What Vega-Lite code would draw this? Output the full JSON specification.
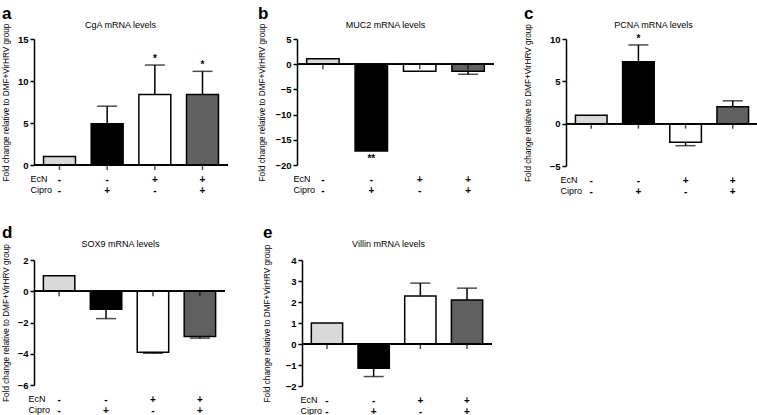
{
  "$schema": "https://vega.github.io/schema/vega-lite/v6.json",
  "background": "white",
  "padding": {"left": 0, "top": 5, "right": 0, "bottom": 0},
  "config": {
    "font": "Liberation Sans",
    "view": {"stroke": null},
    "axis": {"grid": false, "domainColor": "black", "tickColor": "black", "labelColor": "black", "titleColor": "black", "labelFont": "Liberation Sans", "titleFont": "Liberation Sans"},
    "axisY": {"titleFontSize": 8.2, "titleFontWeight": "normal", "labelFontSize": 9.5, "labelFontWeight": "bold", "tickSize": 4, "tickWidth": 1.5, "domainWidth": 1.5, "labelPadding": 2, "title": "Fold change relative to DMF+VirHRV group"},
    "title": {"font": "Liberation Sans", "color": "black", "fontSize": 17, "fontWeight": "bold", "anchor": "start", "frame": "bounds", "offset": -3, "dx": 1}
  },
  "spacing": 28,
  "vconcat": [
    {
      "spacing": 27,
      "hconcat": [
        {
          "title": "a",
          "width": 194, "height": 126,
          "resolve": {"axis": {"x": "independent", "y": "independent"}},
          "data": {"values": [
            {"group": "-/-", "mean": 1.0},
            {"group": "-/+", "mean": 4.9, "err": 7.0},
            {"group": "+/-", "mean": 8.4, "err": 11.9, "star": "*"},
            {"group": "+/+", "mean": 8.4, "err": 11.15, "star": "*"}
          ]},
          "layer": [
            {"mark": {"type": "bar", "stroke": "black", "strokeWidth": 1.5},
             "encoding": {
               "x": {"field": "group", "type": "nominal", "scale": {"domain": ["-/-", "-/+", "+/-", "+/+"], "paddingInner": 0.33, "paddingOuter": 0.2},
                     "axis": {"orient": "bottom", "domain": false, "ticks": false, "labelExpr": "split(datum.value, '/')", "labelAngle": 0, "labelFontSize": 10, "labelFontWeight": "bold", "labelLineHeight": 11, "labelPadding": 9, "labelBaseline": "top", "title": ["EcN", "Cipro"], "titleX": -4, "titleY": 9, "titleAlign": "left", "titleBaseline": "top", "titleFontSize": 9, "titleFontWeight": "normal", "titleLineHeight": 11}},
               "y": {"field": "mean", "type": "quantitative", "scale": {"domain": [0, 15], "nice": false},
                     "axis": {"orient": "left", "values": [0, 5, 10, 15], "title": "Fold change relative to DMF+VirHRV group", "titleX": -24}},
               "fill": {"field": "group", "type": "nominal", "scale": {"domain": ["-/-", "-/+", "+/-", "+/+"], "range": ["#d9d9d9", "#000000", "#ffffff", "#606060"]}, "legend": null}
             }},
            {"mark": {"type": "rule", "color": "black", "strokeWidth": 1.5},
             "encoding": {"y": {"datum": 0, "type": "quantitative", "axis": null}}},
            {"mark": {"type": "tick", "orient": "vertical", "size": 5, "thickness": 1.5, "yOffset": 2.5, "color": "black"},
             "encoding": {"x": {"field": "group", "type": "nominal", "axis": null}, "y": {"datum": 0, "type": "quantitative", "axis": null}}},
            {"transform": [{"filter": "isValid(datum.err)"}],
             "mark": {"type": "rule", "color": "black", "strokeWidth": 1.5},
             "encoding": {"x": {"field": "group", "type": "nominal", "axis": null}, "y": {"field": "mean", "type": "quantitative", "axis": null}, "y2": {"field": "err"}}},
            {"transform": [{"filter": "isValid(datum.err)"}],
             "mark": {"type": "tick", "size": 20, "thickness": 1.5, "color": "black"},
             "encoding": {"x": {"field": "group", "type": "nominal", "axis": {"orient": "top", "labels": false, "ticks": false, "domain": false, "title": "CgA mRNA levels", "titleX": 86, "titleFontSize": 9, "titleFontWeight": "normal", "titlePadding": 10}},
                          "y": {"field": "err", "type": "quantitative", "axis": null}}},
            {"transform": [{"filter": "isValid(datum.star)"}],
             "mark": {"type": "text", "baseline": "bottom", "dy": -1, "fontSize": 10, "fontWeight": "bold", "color": "black"},
             "encoding": {"x": {"field": "group", "type": "nominal", "axis": null}, "y": {"field": "err", "type": "quantitative", "axis": null}, "text": {"field": "star"}}}
          ]
        },
        {
          "title": "b",
          "width": 197, "height": 126,
          "resolve": {"axis": {"x": "independent", "y": "independent"}},
          "data": {"values": [
            {"group": "-/-", "mean": 1.1},
            {"group": "-/+", "mean": -17.2, "star": "**"},
            {"group": "+/-", "mean": -1.4},
            {"group": "+/+", "mean": -1.4, "err": -2.0}
          ]},
          "layer": [
            {"mark": {"type": "bar", "stroke": "black", "strokeWidth": 1.5},
             "encoding": {
               "x": {"field": "group", "type": "nominal", "scale": {"domain": ["-/-", "-/+", "+/-", "+/+"], "paddingInner": 0.33, "paddingOuter": 0.2},
                     "axis": {"orient": "bottom", "domain": false, "ticks": false, "labelExpr": "split(datum.value, '/')", "labelAngle": 0, "labelFontSize": 10, "labelFontWeight": "bold", "labelLineHeight": 11, "labelPadding": 9, "labelBaseline": "top", "title": ["EcN", "Cipro"], "titleX": -4, "titleY": 9, "titleAlign": "left", "titleBaseline": "top", "titleFontSize": 9, "titleFontWeight": "normal", "titleLineHeight": 11}},
               "y": {"field": "mean", "type": "quantitative", "scale": {"domain": [-20, 5], "nice": false},
                     "axis": {"orient": "left", "values": [-20, -15, -10, -5, 0, 5], "title": "Fold change relative to DMF+VirHRV group", "titleX": -31}},
               "fill": {"field": "group", "type": "nominal", "scale": {"domain": ["-/-", "-/+", "+/-", "+/+"], "range": ["#d9d9d9", "#000000", "#ffffff", "#606060"]}, "legend": null}
             }},
            {"mark": {"type": "rule", "color": "black", "strokeWidth": 1.5},
             "encoding": {"y": {"datum": 0, "type": "quantitative", "axis": null}}},
            {"mark": {"type": "tick", "orient": "vertical", "size": 5, "thickness": 1.5, "yOffset": 2.5, "color": "black"},
             "encoding": {"x": {"field": "group", "type": "nominal", "axis": null}, "y": {"datum": 0, "type": "quantitative", "axis": null}}},
            {"transform": [{"filter": "isValid(datum.err)"}],
             "mark": {"type": "rule", "color": "black", "strokeWidth": 1.5},
             "encoding": {"x": {"field": "group", "type": "nominal", "axis": null}, "y": {"field": "mean", "type": "quantitative", "axis": null}, "y2": {"field": "err"}}},
            {"mark": {"type": "tick", "size": 20, "thickness": 1.5, "color": "black"},
             "transform": [{"filter": "isValid(datum.err)"}],
             "encoding": {"x": {"field": "group", "type": "nominal", "axis": {"orient": "top", "labels": false, "ticks": false, "domain": false, "title": "MUC2 mRNA levels", "titleX": 88, "titleFontSize": 9, "titleFontWeight": "normal", "titlePadding": 10}},
                          "y": {"field": "err", "type": "quantitative", "axis": null}}},
            {"transform": [{"filter": "isValid(datum.star)"}],
             "mark": {"type": "text", "baseline": "top", "dy": 3, "fontSize": 10, "fontWeight": "bold", "color": "black"},
             "encoding": {"x": {"field": "group", "type": "nominal", "axis": null}, "y": {"field": "mean", "type": "quantitative", "axis": null}, "text": {"field": "star"}}}
          ]
        },
        {
          "title": "c",
          "width": 192, "height": 127,
          "resolve": {"axis": {"x": "independent", "y": "independent"}},
          "data": {"values": [
            {"group": "-/-", "mean": 1.0},
            {"group": "-/+", "mean": 7.3, "err": 9.3, "star": "*"},
            {"group": "+/-", "mean": -2.2, "err": -2.6},
            {"group": "+/+", "mean": 2.0, "err": 2.7}
          ]},
          "layer": [
            {"mark": {"type": "bar", "stroke": "black", "strokeWidth": 1.5},
             "encoding": {
               "x": {"field": "group", "type": "nominal", "scale": {"domain": ["-/-", "-/+", "+/-", "+/+"], "paddingInner": 0.33, "paddingOuter": 0.2},
                     "axis": {"orient": "bottom", "domain": false, "ticks": false, "labelExpr": "split(datum.value, '/')", "labelAngle": 0, "labelFontSize": 10, "labelFontWeight": "bold", "labelLineHeight": 11, "labelPadding": 9, "labelBaseline": "top", "title": ["EcN", "Cipro"], "titleX": -6, "titleY": 9, "titleAlign": "left", "titleBaseline": "top", "titleFontSize": 9, "titleFontWeight": "normal", "titleLineHeight": 11}},
               "y": {"field": "mean", "type": "quantitative", "scale": {"domain": [-5, 10], "nice": false},
                     "axis": {"orient": "left", "values": [-5, 0, 5, 10], "title": "Fold change relative to DMF+VirHRV group", "titleX": -34}},
               "fill": {"field": "group", "type": "nominal", "scale": {"domain": ["-/-", "-/+", "+/-", "+/+"], "range": ["#d9d9d9", "#000000", "#ffffff", "#606060"]}, "legend": null}
             }},
            {"mark": {"type": "rule", "color": "black", "strokeWidth": 1.5},
             "encoding": {"y": {"datum": 0, "type": "quantitative", "axis": null}}},
            {"mark": {"type": "tick", "orient": "vertical", "size": 5, "thickness": 1.5, "yOffset": 2.5, "color": "black"},
             "encoding": {"x": {"field": "group", "type": "nominal", "axis": null}, "y": {"datum": 0, "type": "quantitative", "axis": null}}},
            {"transform": [{"filter": "isValid(datum.err)"}],
             "mark": {"type": "rule", "color": "black", "strokeWidth": 1.5},
             "encoding": {"x": {"field": "group", "type": "nominal", "axis": null}, "y": {"field": "mean", "type": "quantitative", "axis": null}, "y2": {"field": "err"}}},
            {"transform": [{"filter": "isValid(datum.err)"}],
             "mark": {"type": "tick", "size": 20, "thickness": 1.5, "color": "black"},
             "encoding": {"x": {"field": "group", "type": "nominal", "axis": {"orient": "top", "labels": false, "ticks": false, "domain": false, "title": "PCNA mRNA levels", "titleX": 87, "titleFontSize": 9, "titleFontWeight": "normal", "titlePadding": 10}},
                          "y": {"field": "err", "type": "quantitative", "axis": null}}},
            {"transform": [{"filter": "isValid(datum.star)"}],
             "mark": {"type": "text", "baseline": "bottom", "dy": -1, "fontSize": 10, "fontWeight": "bold", "color": "black"},
             "encoding": {"x": {"field": "group", "type": "nominal", "axis": null}, "y": {"field": "err", "type": "quantitative", "axis": null}, "text": {"field": "star"}}}
          ]
        }
      ]
    },
    {
      "spacing": 35,
      "hconcat": [
        {
          "title": "d",
          "width": 191, "height": 125,
          "resolve": {"axis": {"x": "independent", "y": "independent"}},
          "data": {"values": [
            {"group": "-/-", "mean": 1.0},
            {"group": "-/+", "mean": -1.15, "err": -1.75},
            {"group": "+/-", "mean": -3.9, "err": -3.97},
            {"group": "+/+", "mean": -2.9, "err": -3.0}
          ]},
          "layer": [
            {"mark": {"type": "bar", "stroke": "black", "strokeWidth": 1.5},
             "encoding": {
               "x": {"field": "group", "type": "nominal", "scale": {"domain": ["-/-", "-/+", "+/-", "+/+"], "paddingInner": 0.33, "paddingOuter": 0.2},
                     "axis": {"orient": "bottom", "domain": false, "ticks": false, "labelExpr": "split(datum.value, '/')", "labelAngle": 0, "labelFontSize": 10, "labelFontWeight": "bold", "labelLineHeight": 11, "labelPadding": 9, "labelBaseline": "top", "title": ["EcN", "Cipro"], "titleX": -6, "titleY": 9, "titleAlign": "left", "titleBaseline": "top", "titleFontSize": 9, "titleFontWeight": "normal", "titleLineHeight": 11}},
               "y": {"field": "mean", "type": "quantitative", "scale": {"domain": [-6, 2], "nice": false},
                     "axis": {"orient": "left", "values": [-6, -4, -2, 0, 2], "title": "Fold change relative to DMF+VirHRV group", "titleX": -24}},
               "fill": {"field": "group", "type": "nominal", "scale": {"domain": ["-/-", "-/+", "+/-", "+/+"], "range": ["#d9d9d9", "#000000", "#ffffff", "#606060"]}, "legend": null}
             }},
            {"mark": {"type": "rule", "color": "black", "strokeWidth": 1.5},
             "encoding": {"y": {"datum": 0, "type": "quantitative", "axis": null}}},
            {"mark": {"type": "tick", "orient": "vertical", "size": 5, "thickness": 1.5, "yOffset": 2.5, "color": "black"},
             "encoding": {"x": {"field": "group", "type": "nominal", "axis": null}, "y": {"datum": 0, "type": "quantitative", "axis": null}}},
            {"transform": [{"filter": "isValid(datum.err)"}],
             "mark": {"type": "rule", "color": "black", "strokeWidth": 1.5},
             "encoding": {"x": {"field": "group", "type": "nominal", "axis": null}, "y": {"field": "mean", "type": "quantitative", "axis": null}, "y2": {"field": "err"}}},
            {"transform": [{"filter": "isValid(datum.err)"}],
             "mark": {"type": "tick", "size": 20, "thickness": 1.5, "color": "black"},
             "encoding": {"x": {"field": "group", "type": "nominal", "axis": {"orient": "top", "labels": false, "ticks": false, "domain": false, "title": "SOX9 mRNA levels", "titleX": 86, "titleFontSize": 9, "titleFontWeight": "normal", "titlePadding": 12}},
                          "y": {"field": "err", "type": "quantitative", "axis": null}}}
          ]
        },
        {
          "title": "e",
          "width": 190, "height": 126,
          "resolve": {"axis": {"x": "independent", "y": "independent"}},
          "data": {"values": [
            {"group": "-/-", "mean": 1.0},
            {"group": "-/+", "mean": -1.15, "err": -1.55},
            {"group": "+/-", "mean": 2.28, "err": 2.9},
            {"group": "+/+", "mean": 2.1, "err": 2.66}
          ]},
          "layer": [
            {"mark": {"type": "bar", "stroke": "black", "strokeWidth": 1.5},
             "encoding": {
               "x": {"field": "group", "type": "nominal", "scale": {"domain": ["-/-", "-/+", "+/-", "+/+"], "paddingInner": 0.33, "paddingOuter": 0.2},
                     "axis": {"orient": "bottom", "domain": false, "ticks": false, "labelExpr": "split(datum.value, '/')", "labelAngle": 0, "labelFontSize": 10, "labelFontWeight": "bold", "labelLineHeight": 11, "labelPadding": 9, "labelBaseline": "top", "title": ["EcN", "Cipro"], "titleX": -2, "titleY": 9, "titleAlign": "left", "titleBaseline": "top", "titleFontSize": 9, "titleFontWeight": "normal", "titleLineHeight": 11}},
               "y": {"field": "mean", "type": "quantitative", "scale": {"domain": [-2, 4], "nice": false},
                     "axis": {"orient": "left", "values": [-2, -1, 0, 1, 2, 3, 4], "title": "Fold change relative to DMF+VirHRV group", "titleX": -31}},
               "fill": {"field": "group", "type": "nominal", "scale": {"domain": ["-/-", "-/+", "+/-", "+/+"], "range": ["#d9d9d9", "#000000", "#ffffff", "#606060"]}, "legend": null}
             }},
            {"mark": {"type": "rule", "color": "black", "strokeWidth": 1.5},
             "encoding": {"y": {"datum": 0, "type": "quantitative", "axis": null}}},
            {"mark": {"type": "tick", "orient": "vertical", "size": 5, "thickness": 1.5, "yOffset": 2.5, "color": "black"},
             "encoding": {"x": {"field": "group", "type": "nominal", "axis": null}, "y": {"datum": 0, "type": "quantitative", "axis": null}}},
            {"transform": [{"filter": "isValid(datum.err)"}],
             "mark": {"type": "rule", "color": "black", "strokeWidth": 1.5},
             "encoding": {"x": {"field": "group", "type": "nominal", "axis": null}, "y": {"field": "mean", "type": "quantitative", "axis": null}, "y2": {"field": "err"}}},
            {"transform": [{"filter": "isValid(datum.err)"}],
             "mark": {"type": "tick", "size": 20, "thickness": 1.5, "color": "black"},
             "encoding": {"x": {"field": "group", "type": "nominal", "axis": {"orient": "top", "labels": false, "ticks": false, "domain": false, "title": "Villin mRNA levels", "titleX": 86, "titleFontSize": 9, "titleFontWeight": "normal", "titlePadding": 12}},
                          "y": {"field": "err", "type": "quantitative", "axis": null}}}
          ]
        }
      ]
    }
  ]
}
